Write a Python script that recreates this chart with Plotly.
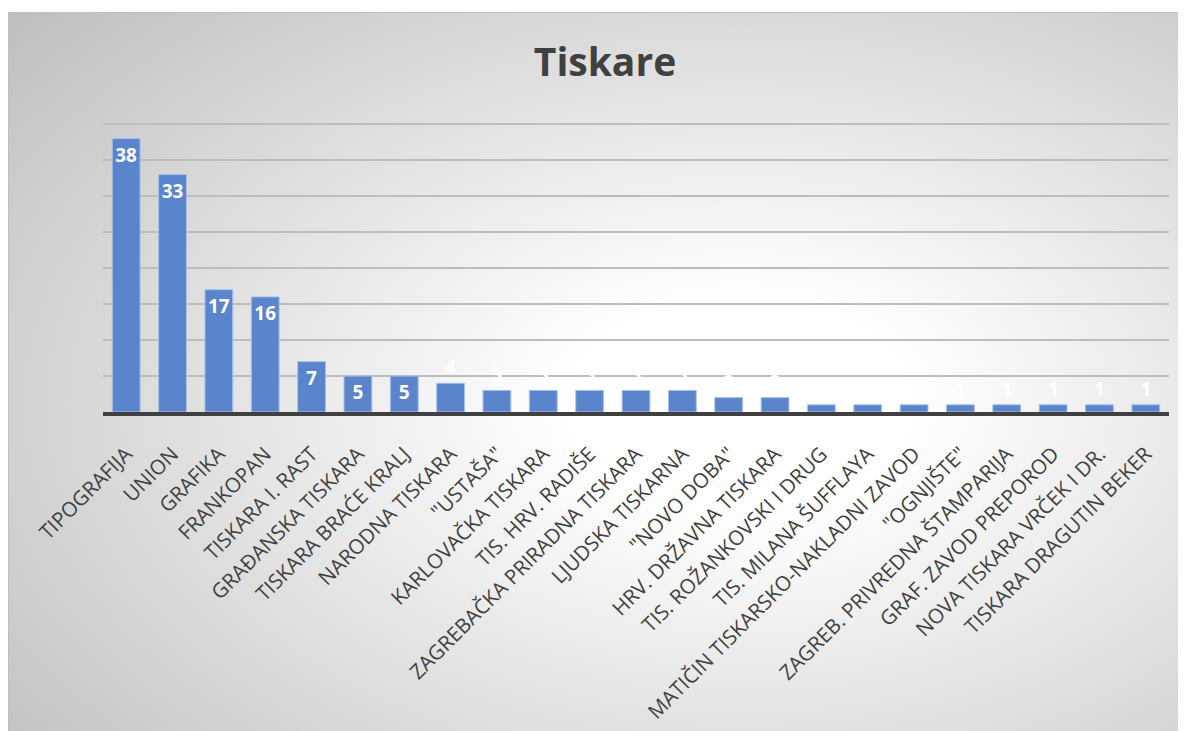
import base64
import plotly.graph_objects as go

categories = [
    "TIPOGRAFIJA", "UNION", "GRAFIKA", "FRANKOPAN", "TISKARA I. RAST",
    "GRAĐANSKA TISKARA", "TISKARA BRAĆE KRALJ", "NARODNA TISKARA", "\"USTAŠA\"",
    "KARLOVAČKA TISKARA", "TIS. HRV. RADIŠE", "ZAGREBAČKA PRIRADNA TISKARA",
    "LJUDSKA TISKARNA", "\"NOVO DOBA\"", "HRV. DRŽAVNA TISKARA",
    "TIS. ROŽANKOVSKI I DRUG", "TIS. MILANA ŠUFFLAYA",
    "MATIČIN TISKARSKO-NAKLADNI ZAVOD", "\"OGNJIŠTE\"",
    "ZAGREB. PRIVREDNA ŠTAMPARIJA", "GRAF. ZAVOD PREPOROD",
    "NOVA TISKARA VRČEK I DR.", "TISKARA DRAGUTIN BEKER",
]
values = [38, 33, 17, 16, 7, 5, 5, 4, 3, 3, 3, 3, 3, 2, 2, 1, 1, 1, 1, 1, 1, 1, 1]
title_text = "Tiskare"

W, H = 1186, 731
ML, MR, MT, MB = 95, 25, 109, 327

BW, BH = 1200, 740
svg = (
    f'<svg xmlns="http://www.w3.org/2000/svg" width="{BW}" height="{BH}" '
    f'viewBox="0 0 {BW} {BH}" preserveAspectRatio="none">'
    '<defs><radialGradient id="g" cx="0.61" cy="0.53" r="0.82">'
    '<stop offset="0" stop-color="#ffffff"/>'
    '<stop offset="0.17" stop-color="#ffffff"/>'
    '<stop offset="1" stop-color="#bdbdbd"/>'
    '</radialGradient></defs>'
    f'<rect x="0" y="0" width="{BW}" height="{BH}" fill="url(#g)" '
    'stroke="#bfbfbf" stroke-width="2"/></svg>'
)
src = "data:image/svg+xml;base64," + base64.b64encode(svg.encode()).decode()

pw = W - ML - MR
ph = H - MT - MB

fig = go.Figure()
fig.add_trace(go.Bar(
    x=categories, y=values,
    text=[str(v) for v in values],
    textposition="auto",
    insidetextanchor="end",
    textfont=dict(family="Open Sans", size=19, color="white", weight="bold"),
    outsidetextfont=dict(family="Open Sans", size=19, color="white", weight="bold"),
    marker=dict(color="#5a84cb", line=dict(color="#a8c0ea", width=1)),
    cliponaxis=False,
    hoverinfo="skip",
))

fig.update_layout(
    width=W, height=H,
    margin=dict(l=ML, r=MR, t=MT, b=MB, autoexpand=False),
    paper_bgcolor="white",
    plot_bgcolor="rgba(0,0,0,0)",
    bargap=0.4,
    showlegend=False,
    title=dict(text=title_text, xref="container", x=597 / W, xanchor="center",
               y=1 - 54 / H, yanchor="middle",
               font=dict(family="Open Sans", size=39, color="#404040", weight="bold")),
    images=[dict(
        source=src, xref="paper", yref="paper",
        x=(0 - ML) / pw, y=(H - MB - 4) / ph,
        sizex=BW / pw, sizey=BH / ph,
        xanchor="left", yanchor="top", sizing="stretch", layer="below",
    )],
)
fig.update_xaxes(
    tickangle=-45,
    tickfont=dict(family="Open Sans", size=20.5, color="#404040"),
    showline=True, linecolor="#404040", linewidth=4,
    ticks="", ticklabelstandoff=18,
    showgrid=False,
)
fig.update_yaxes(
    range=[0, 41], tick0=0, dtick=5, showticklabels=False,
    showgrid=True, gridcolor="#bdbdbd", gridwidth=1.5,
    zeroline=False, showline=False,
)

fig.write_html("out.html")
